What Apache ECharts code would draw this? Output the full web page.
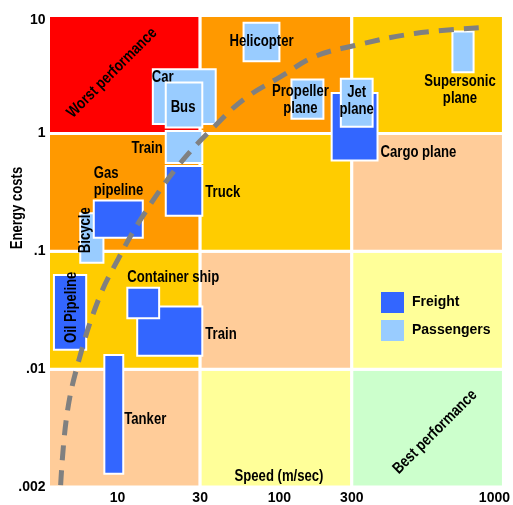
<!DOCTYPE html>
<html>
<head>
<meta charset="utf-8">
<script src="https://cdn.jsdelivr.net/npm/echarts@6.0.0/dist/echarts.min.js"></script>
<style>
  html, body { margin: 0; padding: 0; background: #fff; }
  #chart { width: 513px; height: 505px; }
</style>
</head>
<body>
<div id="chart"></div>
<script>
// band edges: speed (m/sec) and energy cost, every band gets the same width on the chart
const speedEdges = [4, 30, 300, 1000];
const costEdges = [0.002, 0.01, 0.1, 1, 10];

const speedTicks = [10, 30, 100, 300, 1000];
const speedTickLabels = ['10', '30', '100', '300', '1000'];
const costTicks = [0.002, 0.01, 0.1, 1, 10];
const costTickLabels = ['.002', '.01', '.1', '1', '10'];

// background colours, top row first
const cellColors = [
  ['#ff0000', '#ff9900', '#ffcc00'],
  ['#ff9900', '#ffcc00', '#ffcc99'],
  ['#ffcc00', '#ffcc99', '#ffff99'],
  ['#ffcc99', '#ffff99', '#ccffcc']
];

// [name, kind, speed from, speed to, cost from, cost to]  (drawing order)
const vehicles = [
  ['Bicycle', 'Passengers', 6.1, 8.3, 0.08, 0.21],
  ['Gas pipeline', 'Freight', 7.3, 14, 0.13, 0.27],
  ['Car', 'Passengers', 16, 38, 1.2, 3.5],
  ['Bus', 'Passengers', 19, 31, 1.12, 2.7],
  ['Train', 'Passengers', 19, 31, 0.56, 1.05],
  ['Truck', 'Freight', 19, 31, 0.2, 0.53],
  ['Helicopter', 'Passengers', 58, 100, 4.1, 8.7],
  ['Propeller plane', 'Passengers', 120, 195, 1.33, 2.86],
  ['Cargo plane', 'Freight', 221, 368, 0.59, 2.2],
  ['Jet plane', 'Passengers', 254, 354, 1.14, 2.9],
  ['Supersonic plane', 'Passengers', 667, 789, 3.3, 7.3],
  ['Oil Pipeline', 'Freight', 4.3, 6.6, 0.0146, 0.063],
  ['Train', 'Freight', 13, 31, 0.013, 0.034],
  ['Container ship', 'Freight', 11.4, 17.4, 0.027, 0.049],
  ['Tanker', 'Freight', 8.4, 10.8, 0.0024, 0.0132]
];

// dashed trend curve
const trendSpeed = [4.7, 5.1, 5.95, 7.8, 10.1, 13.7, 22.4, 37.7, 59, 102, 171, 307, 494, 860];
const trendCost = [0.00205, 0.0053, 0.0115, 0.0395, 0.086, 0.189, 0.53, 1.16, 1.97, 3.03, 4.48, 5.56, 7.03, 7.91];

const kindColors = { Freight: '#3366ff', Passengers: '#99ccff' };
const FONT = "'Liberation Sans', Arial, sans-serif";
const NARROW = 0.82; // squeeze Liberation Sans into a narrow face

// label placement for each vehicle, same order as vehicles
// ax/ay: anchor as fraction of box, dx/dy: pixel nudge
const vehicleLabels = [
  { text: 'Bicycle', ax: 0, ay: 0, dx: 5, dy: 17, rot: 90 },
  { text: 'Gas\npipeline', ax: 0, ay: 0, dx: 0, dy: -1, align: 'left', va: 'bottom' },
  { text: 'Car', ax: 0, ay: 0, dx: -1, dy: 8, align: 'left' },
  { text: 'Bus', ax: 0.5, ay: 0.5, dx: -1, dy: 3 },
  { text: 'Train', ax: 0, ay: 0.5, dx: -3, dy: 2, align: 'right' },
  { text: 'Truck', ax: 1, ay: 0.5, dx: 3, dy: 2, align: 'left' },
  { text: 'Helicopter', ax: 0.5, ay: 0.5, dx: 0, dy: 0 },
  { text: 'Propeller\nplane', ax: 0.5, ay: 0.5, dx: -7, dy: 1 },
  { text: 'Cargo plane', ax: 1, ay: 1, dx: 3, dy: -8, align: 'left' },
  { text: 'Jet\nplane', ax: 0.5, ay: 0.5, dx: 0, dy: -2 },
  { text: 'Supersonic\nplane', ax: 0.5, ay: 1, dx: -3, dy: 1, va: 'top' },
  { text: 'Oil Pipeline', ax: 0.5, ay: 0.5, dx: 1.5, dy: -5, rot: 90 },
  { text: 'Train', ax: 1, ay: 0.5, dx: 3, dy: 4, align: 'left' },
  { text: 'Container ship', ax: 0, ay: 0, dx: 0, dy: -10, align: 'left' },
  { text: 'Tanker', ax: 1, ay: 0.5, dx: 1, dy: 5, align: 'left' }
];

// position inside the equal-width bands (log inside each band)
function bandPos(v, edges) {
  let i = 0;
  while (i < edges.length - 2 && v > edges[i + 1]) i++;
  return i + Math.log(v / edges[i]) / Math.log(edges[i + 1] / edges[i]);
}

function tickText(val, ticks, labels, edges) {
  for (let i = 0; i < ticks.length; i++) {
    if (Math.abs(bandPos(ticks[i], edges) - val) < 1e-6) return labels[i];
  }
  return '';
}

const cellData = [];
for (let r = 0; r < cellColors.length; r++) {
  for (let c = 0; c < 3; c++) cellData.push([c, r]);
}

const vehicleData = vehicles.map(v => [
  bandPos(v[2], speedEdges), bandPos(v[3], speedEdges),
  bandPos(v[4], costEdges), bandPos(v[5], costEdges)
]);

const trendData = trendSpeed.map((s, i) => [bandPos(s, speedEdges), bandPos(trendCost[i], costEdges)]);

const axisText = { fontFamily: FONT, fontWeight: 'bold', fontSize: 14, color: '#000' };

function note(text, x, y, rot) {
  return {
    type: 'text', x: x, y: y, z: 10, rotation: rot || 0, scaleX: NARROW,
    style: { text: text, align: 'center', verticalAlign: 'middle', fill: '#000',
      fontFamily: FONT, fontWeight: 'bold', fontSize: 16 }
  };
}

const chart = echarts.init(document.getElementById('chart'));
chart.setOption({
  animation: false,
  backgroundColor: '#fff',
  grid: { left: 48.5, right: 5.5, top: 15.5, bottom: 15.5 },
  xAxis: {
    type: 'value', min: 0, max: 3,
    axisLine: { show: false }, axisTick: { show: false }, splitLine: { show: false },
    axisLabel: Object.assign({}, axisText, {
      margin: 4,
      customValues: speedTicks.map(v => bandPos(v, speedEdges)),
      formatter: function (val) {
        const t = tickText(val, speedTicks, speedTickLabels, speedEdges);
        return t === '1000' ? '{end|' + t + '}' : t;
      },
      rich: { end: Object.assign({}, axisText, { padding: [0, 18, 0, 0] }) }
    })
  },
  yAxis: {
    type: 'value', min: 0, max: 4,
    axisLine: { show: false }, axisTick: { show: false }, splitLine: { show: false },
    axisLabel: Object.assign({}, axisText, {
      margin: 3,
      customValues: costTicks.map(v => bandPos(v, costEdges)),
      formatter: function (val) {
        const t = tickText(val, costTicks, costTickLabels, costEdges);
        return t === '10' ? '{top|' + t + '}' : t;
      },
      rich: { top: Object.assign({}, axisText, { padding: [10, 0, 0, 0] }) }
    })
  },
  legend: {
    orient: 'vertical', left: 381, top: 292,
    itemWidth: 23, itemHeight: 21, itemGap: 7, padding: 0,
    icon: 'rect',
    textStyle: Object.assign({}, axisText, { padding: [0, 0, 0, 3] }),
    data: ['Freight', 'Passengers']
  },
  graphic: [
    note('Energy costs', 18, 208, Math.PI / 2),
    note('Speed (m/sec)', 279, 477),
    note('Worst performance', 112, 73, Math.PI / 4),
    note('Best performance', 435, 432, Math.PI / 4)
  ],
  series: [
    {
      type: 'custom', z: 1, silent: true,
      data: cellData,
      renderItem: function (params, api) {
        const c = api.value(0), r = api.value(1);
        const p0 = api.coord([c, r + 1]);
        const p1 = api.coord([c + 1, r]);
        return {
          type: 'rect',
          shape: { x: p0[0], y: p0[1], width: p1[0] - p0[0], height: p1[1] - p0[1] },
          style: { fill: cellColors[cellColors.length - 1 - r][c], stroke: '#fff', lineWidth: 3 }
        };
      }
    },
    {
      type: 'custom', z: 2, silent: true,
      data: vehicleData,
      encode: { x: [0, 1], y: [2, 3] },
      renderItem: function (params, api) {
        const v = vehicles[params.dataIndex];
        const lab = vehicleLabels[params.dataIndex];
        const p0 = api.coord([api.value(0), api.value(3)]);
        const p1 = api.coord([api.value(1), api.value(2)]);
        const w = p1[0] - p0[0], h = p1[1] - p0[1];
        return {
          type: 'group',
          children: [
            { type: 'rect', shape: { x: p0[0], y: p0[1], width: w, height: h },
              style: { fill: kindColors[v[1]], stroke: '#fff', lineWidth: 2 } },
            { type: 'text',
              x: p0[0] + lab.ax * w + lab.dx, y: p0[1] + lab.ay * h + lab.dy,
              rotation: (lab.rot || 0) * Math.PI / 180, scaleX: NARROW,
              style: { text: lab.text, align: lab.align || 'center', verticalAlign: lab.va || 'middle',
                fill: '#000', fontFamily: FONT, fontWeight: 'bold', fontSize: 16, lineHeight: 17 } }
          ]
        };
      }
    },
    {
      type: 'line', z: 3, silent: true,
      data: trendData,
      smooth: 0.4, symbol: 'none',
      lineStyle: { color: '#808080', width: 5, type: [15, 10], cap: 'butt' }
    },
    { name: 'Freight', type: 'scatter', data: [], itemStyle: { color: kindColors.Freight, opacity: 1 } },
    { name: 'Passengers', type: 'scatter', data: [], itemStyle: { color: kindColors.Passengers, opacity: 1 } }
  ]
});
</script>
</body>
</html>
